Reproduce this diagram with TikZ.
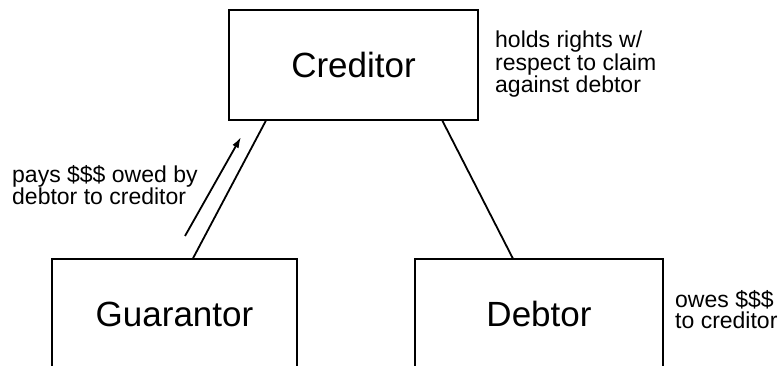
\documentclass[tikz,border=0pt]{standalone}
\usepackage{fontspec}
\setmainfont{Liberation Sans}
\usetikzlibrary{calc}
\usetikzlibrary{arrows.meta}

\begin{document}
\begin{tikzpicture}[x=1pt,y=-1pt,>={Latex[length=11pt,width=7pt]},
  party/.style={draw,line width=1.2pt,inner sep=0pt,minimum height=110pt,
    font=\fontsize{35}{42}\selectfont},
  link/.style={line width=1.8pt},
  remark/.style={anchor=north west,inner sep=0pt,align=left,
    font=\fontsize{23}{21}\selectfont}]
\useasboundingbox (0,0) rectangle (779,366);
\clip (0,0) rectangle (779,366);
% parties
\node[party,minimum width=249pt] (creditor) at (353.5,65) {Creditor};
\node[party,minimum width=245pt] (guarantor) at (174.5,314) {Guarantor};
\node[party,minimum width=248pt] (debtor) at (539,314) {Debtor};
% links
\draw[link] ($(guarantor.north west)!0.575!(guarantor.north east)$)
  -- ($(creditor.south west)!0.15!(creditor.south east)$);
\draw[link] ($(creditor.south west)!0.855!(creditor.south east)$)
  -- ($(debtor.north west)!0.395!(debtor.north east)$);
% payment arrow
\coordinate (paystart) at (185,236);
\coordinate (payend) at (241,137);
\draw[link,->] (paystart) -- (payend);
% remarks
\node[remark] (crednote) at (495,31) {holds rights w/\\respect to claim\\against debtor};
\node[remark] (paynote) at (12,165) {pays \$\$\$ owed by\\debtor to creditor};
\node[remark] (debtnote) at (675,290) {owes \$\$\$\\to creditor};
\end{tikzpicture}
\end{document}
